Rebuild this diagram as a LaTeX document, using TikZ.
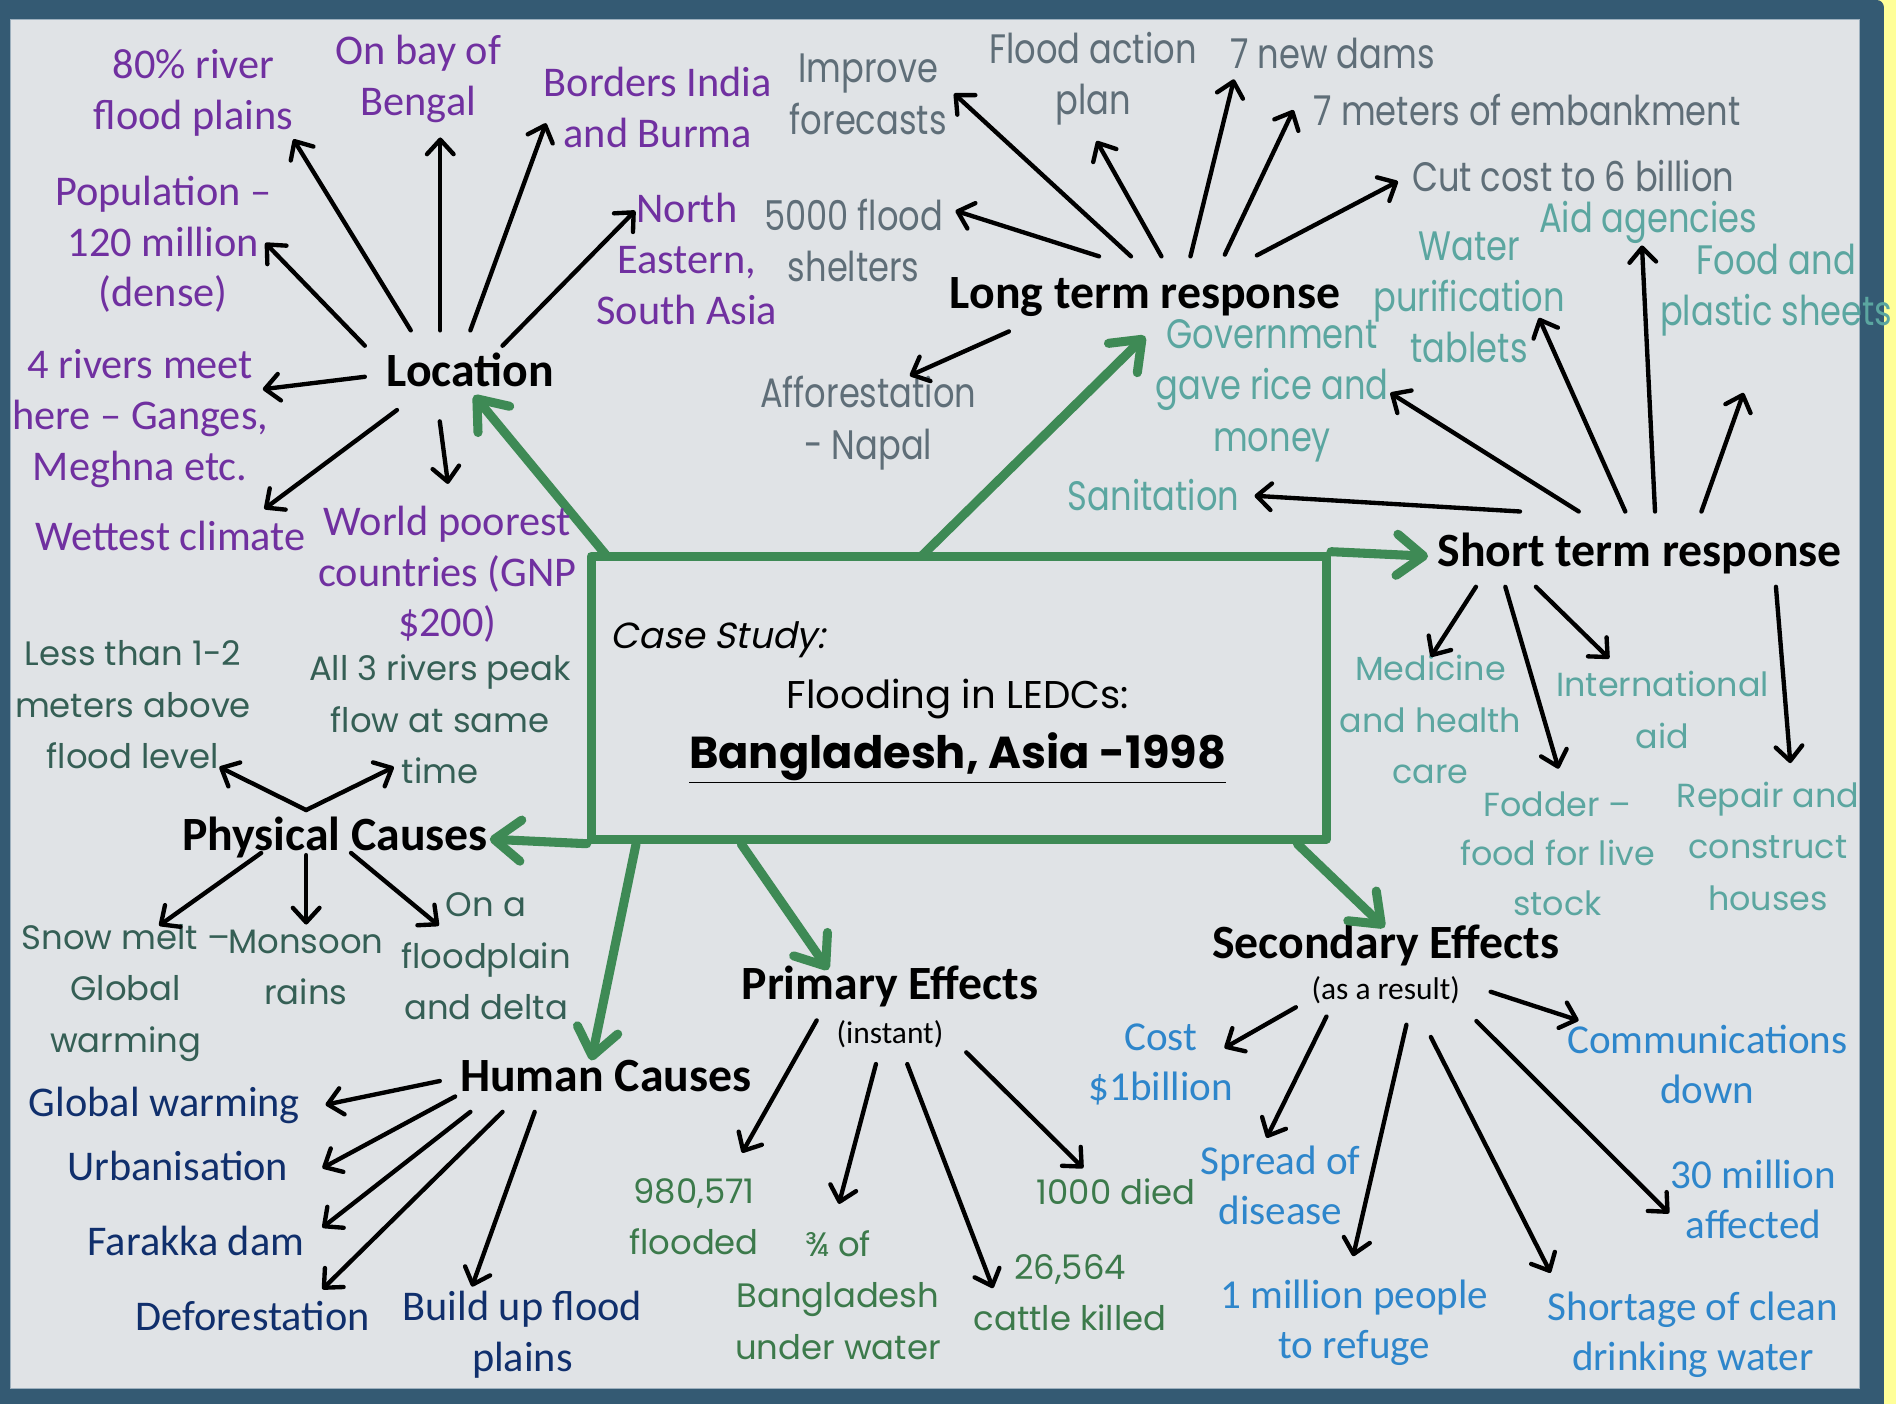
\documentclass[tikz,border=0pt]{standalone}
\usepackage{fontspec}
\setmainfont{Carlito}
\newfontfamily\calib{Carlito}
\newfontfamily\goth{Poppins}
\newfontfamily\gothit{Poppins}[FakeSlant=0.2]
\newfontfamily\twc{Poppins}[FakeStretch=0.82]
\usetikzlibrary{arrows.meta}
\definecolor{bBlue}{HTML}{345A73}
\definecolor{yel}{HTML}{FFFF99}
\definecolor{panel}{HTML}{E0E3E6}
\definecolor{panelEdge}{HTML}{9DB0BE}
\definecolor{gGreen}{HTML}{3E8A55}
\definecolor{cPurple}{HTML}{7030A0}
\definecolor{cGrey}{HTML}{5F6E78}
\definecolor{cTeal}{HTML}{5BA6A0}
\definecolor{cSlate}{HTML}{355F55}
\definecolor{cNavy}{HTML}{102F6C}
\definecolor{cGreen}{HTML}{3C7A4B}
\definecolor{cBlue}{HTML}{2E86CB}
\begin{document}
\begin{tikzpicture}[x=1pt,y=-1pt,
  every node/.style={inner sep=0pt, align=center},
  hd/.style={font=\calib\bfseries\fontsize{39.5}{44}\selectfont},
  sub/.style={font=\calib\fontsize{26}{30}\selectfont},
  purp/.style={text=cPurple, font=\calib\fontsize{35}{42}\selectfont},
  gry/.style={text=cGrey, font=\twc\fontsize{34}{42.5}\selectfont},
  tea/.style={text=cTeal, font=\twc\fontsize{34}{42.5}\selectfont},
  teag/.style={text=cTeal, font=\goth\fontsize{27.6}{42.5}\selectfont},
  sla/.style={text=cSlate, font=\goth\fontsize{28}{42.5}\selectfont},
  nav/.style={text=cNavy, font=\calib\fontsize{35}{42}\selectfont},
  grn/.style={text=cGreen, font=\goth\fontsize{28}{42.5}\selectfont},
  blu/.style={text=cBlue, font=\calib\fontsize{34}{41.5}\selectfont},
  arr/.style={draw=black, line width=3.6pt, line cap=round,
    -{Straight Barb[length=12pt,width=22pt,round]}},
  garr/.style={draw=gGreen, line width=7.5pt, line cap=round,
    -{Straight Barb[length=22pt,width=34pt,round]}}
]
\useasboundingbox (0,0) rectangle (1568,1161);
% frame
\fill[yel] (0,0) rectangle (1568,1161);
\fill[bBlue, rounded corners=6pt] (-20,0) rectangle (1558,1181);
\fill[panel] (8.3,16.5) rectangle (1537.4,1147.9);
\draw[panelEdge, line width=0.8pt] (8.3,16.5) rectangle (1537.4,1147.9);

% central box
\node[draw=gGreen, line width=7.5pt, line join=round, minimum width=608pt, minimum height=234pt] (case) at (793,577) {};
\node[anchor=west, font=\gothit\fontsize{30}{34}\selectfont] (cs) at (505,529) {Case Study:};
\node[font=\goth\fontsize{32}{36}\selectfont] (fl) at (792,578) {Flooding in LEDCs:};
\node[font=\goth\bfseries\fontsize{37}{42}\selectfont] (bd) at (792,627) {\underline{Bangladesh, Asia -1998}};

% headings
\node[hd] (loc) at (389,306) {Location};
\node[hd] (ltr) at (947,246) {Long term response};
\node[hd] (str) at (1356,458) {Short term response};
\node[hd] (phy) at (277,693) {Physical Causes};
\node[hd] (hum) at (501,890) {Human Causes};
\node[hd] (pri) at (736,816) {Primary Effects};
\node[sub] (pris) at (736,855) {(instant)};
\node[hd] (sec) at (1146,782) {Secondary Effects};
\node[sub] (secs) at (1146,819) {(as a result)};

% green arrows
\coordinate (gLocS) at (502,460);
\coordinate (gLtrS) at (762,460);
\coordinate (gHumS) at (526,698);
\coordinate (gPriS) at (613,698);
\coordinate (gSecS) at (1073,698);
\coordinate (gLocE) at (392,327);
\coordinate (gLtrE) at (947,278);
\coordinate (gStrE) at (1181,460);
\coordinate (gPhyE) at (405,694);
\coordinate (gHumE) at (489,877);
\coordinate (gPriE) at (685,802);
\coordinate (gSecE) at (1145,767);
\draw[garr] (gLocS) -- (gLocE);
\draw[garr] (gLtrS) -- (gLtrE);
\draw[garr] (case.north east) -- (gStrE);
\draw[garr] (case.south west) -- (gPhyE);
\draw[garr] (gHumS) -- (gHumE);
\draw[garr] (gPriS) -- (gPriE);
\draw[garr] (gSecS) -- (gSecE);

% Location
\node[purp] (rivr) at (160,77) {80\% river\\flood plains};
\node[purp] (bay) at (346,65) {On bay of\\Bengal};
\node[purp] (bord) at (544,89) {Borders India\\and Burma};
\node[purp] (pop) at (135,202) {Population –\\120 million\\(dense)};
\node[purp] (ne) at (568,214) {North\\Eastern,\\South Asia};
\node[purp] (four) at (116,346) {4 rivers meet\\here – Ganges,\\Meghna etc.};
\node[purp] (wet) at (141,443) {Wettest climate};
\node[purp] (poor) at (370,475) {World poorest\\countries (GNP\\\$200)};
\coordinate (l1s) at (339.7,273.2); \coordinate (l1e) at (242.6,115.2);
\coordinate (l2s) at (364.1,273.2); \coordinate (l2e) at (364.1,113.7);
\coordinate (l3s) at (389,273.2);   \coordinate (l3e) at (451.5,101.9);
\coordinate (l4s) at (415.6,285.9); \coordinate (l4e) at (525.3,174.3);
\coordinate (l5s) at (301.7,285.9); \coordinate (l5e) at (219.4,200.9);
\coordinate (l6s) at (301.7,311.6); \coordinate (l6e) at (217.3,321.9);
\coordinate (l7s) at (328.3,339.1); \coordinate (l7e) at (218.6,420.9);
\coordinate (l8s) at (363.7,348.5); \coordinate (l8e) at (370.5,400.2);
\foreach \i in {1,...,8} {\draw[arr] (l\i s) -- (l\i e);}

% Long term
\node[gry] (impr) at (718,78) {Improve\\forecasts};
\node[gry] (fap) at (904,65) {Flood action\\plan};
\node[gry] (dams) at (1102,44) {7 new dams};
\node[gry] (emb) at (1263,91) {7 meters of embankment};
\node[gry] (cut) at (1301,146) {Cut cost to 6 billion};
\node[gry] (shel) at (706,199) {5000 flood\\shelters};
\node[gry] (aff) at (718,350) {Afforestation\\- Napal};
\coordinate (t1s) at (935.3,212);   \coordinate (t1e) at (789,77.4);
\coordinate (t2s) at (960.5,212);   \coordinate (t2e) at (906.9,116.6);
\coordinate (t3s) at (984.5,212);   \coordinate (t3e) at (1020.5,65.6);
\coordinate (t4s) at (1012.9,210.6);\coordinate (t4e) at (1069.7,91);
\coordinate (t5s) at (1039.4,211.2);\coordinate (t5e) at (1156.1,150);
\coordinate (t6s) at (908.9,212);   \coordinate (t6e) at (790.2,174.3);
\coordinate (t7s) at (834.4,274.1); \coordinate (t7e) at (752.4,310.7);
\foreach \i in {1,...,7} {\draw[arr] (t\i s) -- (t\i e);}

% Short term
\node[tea] (wat) at (1215,246) {Water\\purification\\tablets};
\node[tea] (aid) at (1363,184) {Aid agencies};
\node[tea] (food) at (1469,240) {Food and\\plastic sheets};
\node[tea] (gov) at (1052,323) {Government\\gave rice and\\money};
\node[tea] (san) at (954,409) {Sanitation};
\node[teag] (med) at (1183,595) {Medicine\\and health\\care};
\node[teag] (intl) at (1375,587) {International\\aid};
\node[teag, font=\goth\fontsize{27.6}{41}\selectfont] (fod) at (1288,706) {Fodder –\\food for live\\stock};
\node[teag] (rep) at (1462,700) {Repair and\\construct\\houses};
\coordinate (s1s) at (1257,423);    \coordinate (s1e) at (1037.5,410);
\coordinate (s2s) at (1305.6,423);  \coordinate (s2e) at (1149.8,324.9);
\coordinate (s3s) at (1344.1,423);  \coordinate (s3e) at (1272.7,262.9);
\coordinate (s4s) at (1368.7,423);  \coordinate (s4e) at (1357.9,203);
\coordinate (s5s) at (1407.1,423);  \coordinate (s5e) at (1441.9,324.9);
\coordinate (s6s) at (1220.6,485.3);\coordinate (s6e) at (1183.3,543.2);
\coordinate (s7s) at (1244.9,485.3);\coordinate (s7e) at (1288.9,635.7);
\coordinate (s8s) at (1270.2,485.3);\coordinate (s8e) at (1330.8,544.6);
\coordinate (s9s) at (1468.7,485.3);\coordinate (s9e) at (1480.6,631.1);
\foreach \i in {1,...,9} {\draw[arr] (s\i s) -- (s\i e);}

% Physical causes
\node[sla] (less) at (110,583) {Less than 1-2\\meters above\\flood level};
\node[sla] (peak) at (364,595) {All 3 rivers peak\\flow at same\\time};
\node[sla] (snow) at (104,821) {Snow melt –\\Global\\warming};
\node[sla] (mon) at (253,800) {Monsoon\\rains};
\node[sla] (ona) at (402,791) {On a\\floodplain\\and delta};
\coordinate (p0) at (253.2,669.9);
\coordinate (p1e) at (181.4,634.3);
\coordinate (p2e) at (325.7,634.3);
\coordinate (p3s) at (216,705.4);   \coordinate (p3e) at (131.6,765.5);
\coordinate (p4s) at (253.2,707.2); \coordinate (p4e) at (253.2,764.6);
\coordinate (p5s) at (290.3,705.4); \coordinate (p5e) at (362.9,765.5);
\draw[arr] (p0) -- (p1e);
\draw[arr] (p0) -- (p2e);
\foreach \i in {3,4,5} {\draw[arr] (p\i s) -- (p\i e);}

% Human causes
\node[nav] (gw) at (136,914) {Global warming};
\node[nav] (urb) at (147,964) {Urbanisation};
\node[nav] (far) at (162,1026) {Farakka dam};
\node[nav] (def) at (209,1088) {Deforestation};
\node[nav] (bup) at (432,1104) {Build up flood\\plains};
\coordinate (h1s) at (363.7,894);   \coordinate (h1e) at (269.2,913.6);
\coordinate (h2s) at (376.4,906.8); \coordinate (h2e) at (266.6,966);
\coordinate (h3s) at (389,919.5);   \coordinate (h3e) at (266.6,1015.2);
\coordinate (h4s) at (415.6,919.5); \coordinate (h4e) at (266.6,1066.2);
\coordinate (h5s) at (442.2,919.5); \coordinate (h5e) at (390.3,1064);
\foreach \i in {1,...,5} {\draw[arr] (h\i s) -- (h\i e);}

% Primary effects
\node[grn] (fld) at (574,1006) {980,571\\flooded};
\node[grn] (tq) at (693,1071) {¾ of\\Bangladesh\\under water};
\node[grn] (died) at (923,986) {1000 died};
\node[grn] (cat) at (885,1069) {26,564\\cattle killed};
\coordinate (e1s) at (675.4,843.9); \coordinate (e1e) at (613.7,953.3);
\coordinate (e2s) at (724.4,880);   \coordinate (e2e) at (693.8,995.6);
\coordinate (e3s) at (750.3,880);   \coordinate (e3e) at (821.2,1065.3);
\coordinate (e4s) at (799.1,870.3); \coordinate (e4e) at (895.8,966);
\foreach \i in {1,...,4} {\draw[arr] (e\i s) -- (e\i e);}

% Secondary effects
\node[blu] (cost) at (960,880) {Cost\\\$1billion};
\node[blu] (comm) at (1412,880) {Communications\\down};
\node[blu] (spr) at (1059,980) {Spread of\\disease};
\node[blu] (thirty) at (1450,992) {30 million\\affected};
\node[blu] (mil) at (1120,1094) {1 million people\\to refuge};
\node[blu] (shortw) at (1400,1104) {Shortage of clean\\drinking water};
\coordinate (d1s) at (1071.7,833);  \coordinate (d1e) at (1012.6,866.7);
\coordinate (d2s) at (1097,840.7);  \coordinate (d2e) at (1047.5,941);
\coordinate (d3s) at (1163.1,847.5);\coordinate (d3e) at (1119,1038.9);
\coordinate (d4s) at (1183.3,857.6);\coordinate (d4e) at (1282.3,1052.6);
\coordinate (d5s) at (1221,844.4);  \coordinate (d5e) at (1380.3,1003.4);
\coordinate (d6s) at (1232.8,820.2);\coordinate (d6e) at (1305.5,843.9);
\foreach \i in {1,...,6} {\draw[arr] (d\i s) -- (d\i e);}
\end{tikzpicture}
\end{document}
